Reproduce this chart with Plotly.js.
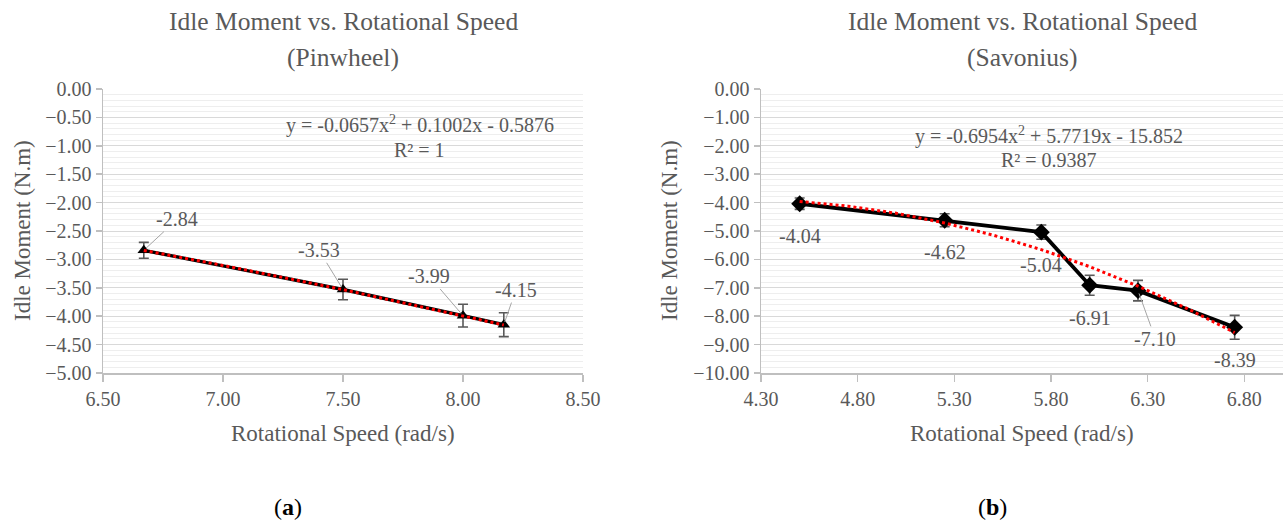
<!DOCTYPE html>
<html>
<head>
<meta charset="utf-8">
<script src="https://cdn.plot.ly/plotly-3.0.1.min.js"></script>
<style>
html,body{margin:0;padding:0;background:#fff;}
#chart{width:1284px;height:524px;}
</style>
</head>
<body>
<div id="chart"></div>
<script>
// ---------- data ----------
const pinX = [6.67, 7.50, 8.00, 8.17];
const pinY = [-2.84, -3.53, -3.99, -4.15];
const pinErr = [0.14, 0.18, 0.20, 0.21];
const pinFitX = [6.67, 7.00, 7.50, 8.00, 8.17];
const pinFitY = [-2.842, -3.106, -3.532, -3.991, -4.155];

const savX = [4.50, 5.25, 5.75, 6.00, 6.25, 6.75];
const savY = [-4.04, -4.62, -5.04, -6.91, -7.10, -8.39];
const savErr = [0.20, 0.23, 0.25, 0.35, 0.36, 0.42];
const savFitX = [4.50, 4.75, 5.00, 5.25, 5.50, 5.75, 6.00, 6.25, 6.50, 6.75];
const savFitY = [-3.960, -4.125, -4.377, -4.717, -5.143, -5.656, -6.255, -6.942, -7.716, -8.576];

const xTitle = 'Rotational Speed (rad/s)';
const yTitle = 'Idle Moment (N.m)';
const titleMain = 'Idle Moment vs. Rotational Speed';
const subA = '(Pinwheel)';
const subB = '(Savonius)';
const eqA = 'y = -0.0657x<sup>2</sup> + 0.1002x - 0.5876';
const r2A = 'R² = 1';
const eqB = 'y = -0.6954x<sup>2</sup> + 5.7719x - 15.852';
const r2B = 'R² = 0.9387';

// ---------- style / layout ----------
const FONT = "'Liberation Serif', 'Times New Roman', serif";
const GREY = '#595959';
const W = 1284, H = 524;
const px = v => v / W;
const py = v => 1 - v / H;

// label placement (data-space positions of the label boxes)
const pinLab = [[6.81, -2.29, true], [7.40, -2.84, true], [7.86, -3.30, true], [8.22, -3.54, true]];
const savLab = [[4.50, -5.19, false], [5.25, -5.75, false], [5.75, -6.19, false], [6.00, -8.05, false], [6.34, -8.80, true], [6.75, -9.55, false]];

const traces = [
  {x: pinX, y: pinY, xaxis: 'x', yaxis: 'y', mode: 'lines+markers', type: 'scatter',
   line: {color: '#000', width: 3.4},
   marker: {symbol: 'triangle-up', size: 11, color: '#000'},
   error_y: {type: 'data', array: pinErr, visible: true, color: GREY, thickness: 1.6, width: 5},
   hoverinfo: 'skip', showlegend: false},
  {x: pinFitX, y: pinFitY, xaxis: 'x', yaxis: 'y', mode: 'lines', type: 'scatter',
   line: {color: '#ff0000', width: 3, dash: 'dot'}, hoverinfo: 'skip', showlegend: false},
  {x: savX, y: savY, xaxis: 'x2', yaxis: 'y2', mode: 'lines+markers', type: 'scatter',
   line: {color: '#000', width: 3.8},
   marker: {symbol: 'diamond', size: 13, color: '#000'},
   error_y: {type: 'data', array: savErr, visible: true, color: GREY, thickness: 1.6, width: 5},
   hoverinfo: 'skip', showlegend: false},
  {x: savFitX, y: savFitY, xaxis: 'x2', yaxis: 'y2', mode: 'lines', type: 'scatter',
   line: {color: '#ff0000', width: 3, dash: 'dot'}, hoverinfo: 'skip', showlegend: false}
];

function xAxis(dom, range, tick0, dtick, anchor) {
  return {domain: dom, range: range, tick0: tick0, dtick: dtick, anchor: anchor,
    tickformat: '.2f', showgrid: false, zeroline: false,
    showline: true, linecolor: '#bfbfbf', linewidth: 1.5,
    ticks: 'outside', ticklen: 7, tickcolor: '#bfbfbf', tickwidth: 1.5,
    tickfont: {family: FONT, size: 20, color: GREY}, fixedrange: true};
}
function yAxis(dom, range, dtick, minor, anchor) {
  return {domain: dom, range: range, dtick: dtick, anchor: anchor,
    tickformat: '.2f', showgrid: true, gridcolor: '#d9d9d9', gridwidth: 1,
    minor: {dtick: minor, showgrid: true, gridcolor: '#eeeeee', gridwidth: 1},
    zeroline: false, showline: true, linecolor: '#bfbfbf', linewidth: 1.5,
    ticks: 'outside', ticklen: 6, tickcolor: '#bfbfbf', tickwidth: 1.5,
    tickfont: {family: FONT, size: 20, color: GREY}, fixedrange: true};
}

const yDom = [py(373), py(89)];
const layout = {
  width: W, height: H,
  margin: {l: 0, r: 0, t: 0, b: 0},
  paper_bgcolor: '#fff', plot_bgcolor: '#fff',
  font: {family: FONT, color: GREY},
  xaxis: xAxis([px(103), px(583)], [6.5, 8.5], 6.5, 0.5, 'y'),
  yaxis: yAxis(yDom, [-5, 0], 0.5, 0.1, 'x'),
  xaxis2: xAxis([px(761), px(1283)], [4.3, 7.0], 4.3, 0.5, 'y2'),
  yaxis2: yAxis(yDom, [-10, 0], 1, 0.2, 'x2'),
  annotations: [],
  showlegend: false
};

const A = layout.annotations;
function paperText(text, x, y, size, color, angle) {
  A.push({text: text, xref: 'paper', yref: 'paper', x: px(x), y: py(y),
    xanchor: 'center', yanchor: 'middle', showarrow: false, textangle: angle || 0,
    font: {family: FONT, size: size, color: color}});
}
// titles
paperText(titleMain, 343, 21, 25.5, GREY);
paperText(subA, 343, 57, 25.5, GREY);
paperText(titleMain, 1022, 21, 25.5, GREY);
paperText(subB, 1022, 57, 25.5, GREY);
// axis titles
paperText(xTitle, 343, 433, 23, GREY);
paperText(xTitle, 1022, 433, 23, GREY);
paperText(yTitle, 22, 231, 23, GREY, -90);
paperText(yTitle, 669, 231, 23, GREY, -90);
// captions
paperText('(<b>a</b>)', 288, 507, 24, '#000');
paperText('(<b>b</b>)', 992, 507, 24, '#000');

// equations
A.push({text: eqA, xref: 'x', yref: 'y', x: 7.82, y: -0.62, showarrow: false, font: {family: FONT, size: 20, color: GREY}});
A.push({text: r2A, xref: 'x', yref: 'y', x: 7.82, y: -1.07, showarrow: false, font: {family: FONT, size: 20, color: GREY}});
A.push({text: eqB, xref: 'x2', yref: 'y2', x: 5.79, y: -1.65, showarrow: false, font: {family: FONT, size: 20, color: GREY}});
A.push({text: r2B, xref: 'x2', yref: 'y2', x: 5.79, y: -2.49, showarrow: false, font: {family: FONT, size: 20, color: GREY}});

// data labels
function addLabels(xs, ys, labs, xr, yr) {
  xs.forEach((xv, i) => {
    const [lx, ly, leader] = labs[i];
    const base = {text: ys[i].toFixed(2), font: {family: FONT, size: 20, color: GREY},
      xref: xr, yref: yr};
    if (leader) {
      A.push(Object.assign(base, {x: xv, y: ys[i], ax: lx, ay: ly, axref: xr, ayref: yr,
        showarrow: true, arrowhead: 0, arrowwidth: 1, arrowcolor: '#a6a6a6', standoff: 3}));
    } else {
      A.push(Object.assign(base, {x: lx, y: ly, showarrow: false}));
    }
  });
}
addLabels(pinX, pinY, pinLab, 'x', 'y');
addLabels(savX, savY, savLab, 'x2', 'y2');

Plotly.newPlot('chart', traces, layout, {staticPlot: true, displayModeBar: false});
</script>
</body>
</html>
